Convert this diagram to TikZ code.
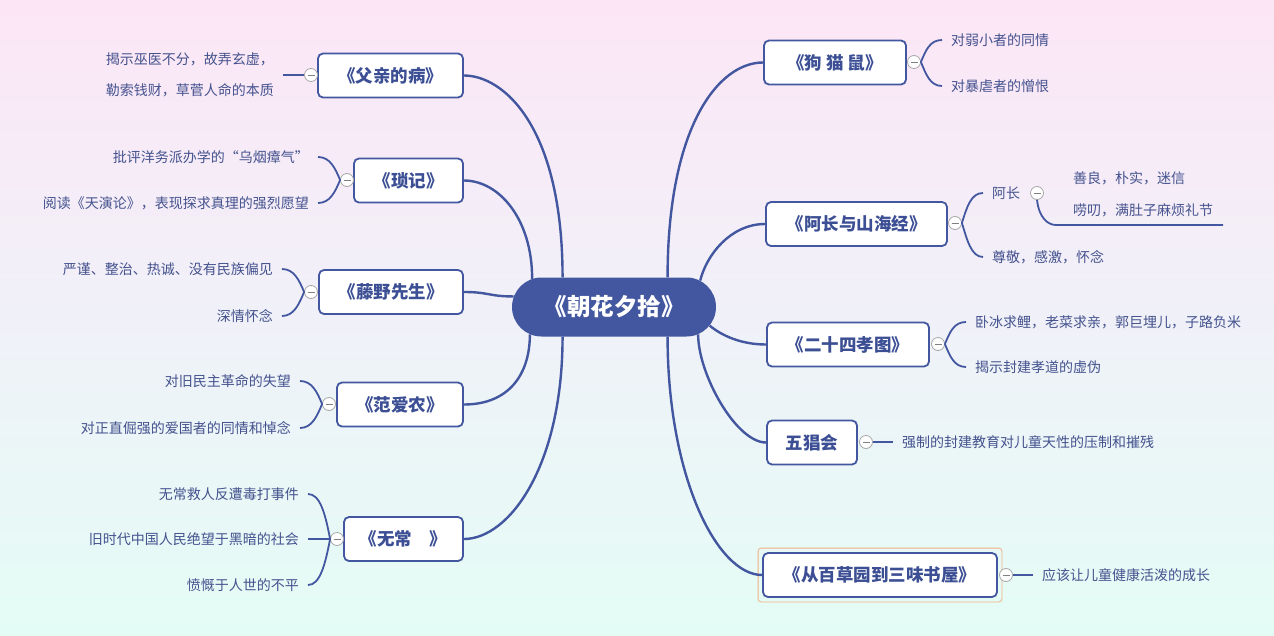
\documentclass[tikz,border=0pt]{standalone}
\usepackage{fontspec}
\setmainfont{Noto Sans CJK SC}
\usetikzlibrary{shapes.misc}

\definecolor{linec}{HTML}{4357A0}
\definecolor{topicc}{HTML}{3C4F94}
\definecolor{leafc}{HTML}{44528E}
\definecolor{framec}{HTML}{F2B282}
\definecolor{topbg}{HTML}{FCE6F6}
\definecolor{midbg}{HTML}{F0F1F8}
\definecolor{botbg}{HTML}{E4FCF6}

\begin{document}
\begin{tikzpicture}[x=1pt, y=-1pt,
    root/.style={rounded rectangle, fill=linec, minimum width=204pt, minimum height=59pt,
        inner sep=0pt, text=white, font=\fontsize{23.5}{26}\selectfont\bfseries},
    topic/.style={draw=linec, line width=1.8pt, fill=white, rounded corners=5pt,
        minimum height=44pt, inner sep=0pt, text=topicc, font=\fontsize{17.5}{20}\selectfont\bfseries},
    link/.style={draw=linec, line width=2.4pt},
    twig/.style={draw=linec, line width=1.8pt},
    leafl/.style={anchor=east, inner xsep=9pt, inner ysep=0pt, text=leafc,
        font=\fontsize{14}{31}\selectfont},
    leafr/.style={leafl, anchor=west},
    tog/.style={circle, draw=gray!70, fill=white, line width=0.8pt, minimum size=13pt, inner sep=0pt,
        path picture={\draw[gray, line width=0.8pt]
            ([xshift=3pt]path picture bounding box.west) -- ([xshift=-3pt]path picture bounding box.east);}}]
    % Background
    \shade[top color=topbg, bottom color=botbg, middle color=midbg] (0,0) rectangle (1274,635);

    % Root
    \node[root] (root) at (614,307) {《朝花夕拾》};

    % Topics
    \node[topic, minimum width=145pt] (fq) at (390.5,75.5) {《父亲的病》};
    \node[topic, minimum width=109pt] (sj) at (408.5,180.5) {《琐记》};
    \node[topic, minimum width=144pt] (ty) at (391,292) {《藤野先生》};
    \node[topic, minimum width=126pt] (fan) at (400,404.5) {《范爱农》};
    \node[topic, minimum width=119pt] (wc) at (403.5,539) {《无常　》};
    \node[topic, minimum width=142pt] (gm) at (835,62.5) {《狗 猫 鼠》};
    \node[topic, minimum width=181pt] (ac) at (856.5,224) {《阿长与山海经》};
    \node[topic, minimum width=162pt] (es) at (848,344.5) {《二十四孝图》};
    \node[topic, minimum width=90pt] (wch) at (812,442.5) {五猖会};
    \node[topic, minimum width=234pt] (bc) at (880,575) {《从百草园到三味书屋》};
    \draw[framec, line width=0.8pt, rounded corners=3pt]
        ([shift={(-4,-4)}]bc.north west) rectangle ([shift={(4,4)}]bc.south east);

    % Links
    \draw[link] (root.150) .. controls +(0,-150) and +(40,0) .. (fq.east);
    \draw[link] (root.161) .. controls +(0,-60) and +(35,0) .. (sj.east);
    \draw[link] (root.174) .. controls +(-25,0) and +(25,0) .. (ty.east);
    \draw[link] (root.198) .. controls +(0,40) and +(45,0) .. (fan.east);
    \draw[link] (root.210) .. controls +(0,130) and +(45,0) .. (wc.east);
    \draw[link] (root.29) .. controls +(0,-150) and +(-45,0) .. (gm.west);
    \draw[link] (root.17) .. controls +(6,-25) and +(-35,0) .. (ac.west);
    \draw[link] (root.-11) .. controls +(12,10) and +(-25,0) .. (es.west);
    \draw[link] (root.-18) .. controls +(0,40) and +(-30,0) .. (wch.west);
    \draw[link] (root.-29) .. controls +(0,140) and +(-45,0) .. (bc.west);

    % Toggles
    \foreach \n/\x/\y in {tfq/311/75, tsj/347/180, tty/311/292, tfan/329/404, twc/337/539,
        tgm/914/62, tac/955/223, tah/1037/193, tes/938/344, twch/866/442, tbc/1006/575}
        \node[tog] (\n) at (\x,\y) {};

    % Leaves, left
    \node[leafl, align=left] (fq1) at (283,75) {揭示巫医不分，故弄玄虚，\\勒索钱财，草菅人命的本质};
    \draw[twig] (tfq.west) -- (fq1.east);

    \node[leafl] (sj1) at (318,157) {批评洋务派办学的“乌烟瘴气”};
    \node[leafl] (sj2) at (318,203) {阅读《天演论》，表现探求真理的强烈愿望};
    \draw[twig] (tsj.west) .. controls +(-5,-12) and +(12,0) .. (sj1.east);
    \draw[twig] (tsj.west) .. controls +(-5,12) and +(12,0) .. (sj2.east);

    \node[leafl] (ty1) at (282,269) {严谨、整治、热诚、没有民族偏见};
    \node[leafl] (ty2) at (282,316) {深情怀念};
    \draw[twig] (tty.west) .. controls +(-5,-12) and +(12,0) .. (ty1.east);
    \draw[twig] (tty.west) .. controls +(-5,12) and +(12,0) .. (ty2.east);

    \node[leafl] (fan1) at (300,381) {对旧民主革命的失望};
    \node[leafl] (fan2) at (300,428) {对正直倔强的爱国者的同情和悼念};
    \draw[twig] (tfan.west) .. controls +(-5,-12) and +(12,0) .. (fan1.east);
    \draw[twig] (tfan.west) .. controls +(-5,12) and +(12,0) .. (fan2.east);

    \node[leafl] (wc1) at (308,494) {无常救人反遭毒打事件};
    \node[leafl] (wc2) at (308,539) {旧时代中国人民绝望于黑暗的社会};
    \node[leafl] (wc3) at (308,585) {愤慨于人世的不平};
    \draw[twig] (twc.west) .. controls +(-5,-26) and +(12,0) .. (wc1.east);
    \draw[twig] (twc.west) -- (wc2.east);
    \draw[twig] (twc.west) .. controls +(-5,26) and +(12,0) .. (wc3.east);

    % Leaves, right
    \node[leafr] (gm1) at (942,40) {对弱小者的同情};
    \node[leafr] (gm2) at (942,86) {对暴虐者的憎恨};
    \draw[twig] (tgm.east) .. controls +(5,-12) and +(-12,0) .. (gm1.west);
    \draw[twig] (tgm.east) .. controls +(5,12) and +(-12,0) .. (gm2.west);

    \node[leafr] (ah) at (983,193) {阿长};
    \node[leafr] (ac2) at (983,257) {尊敬，感激，怀念};
    \draw[twig] (tac.east) .. controls +(5,-16) and +(-12,0) .. (ah.west);
    \draw[twig] (tac.east) .. controls +(5,16) and +(-12,0) .. (ac2.west);

    \node[leafr] (ah1) at (1064,178) {善良，朴实，迷信};
    \node[leafr] (ah2) at (1064,210) {唠叨，满肚子麻烦礼节};
    \coordinate (ahbend) at (1056,225);
    \coordinate (ahend) at (1223,225);
    \draw[twig] (tah.south) .. controls +(2,18) and +(-8,0) .. (ahbend) -- (ahend);

    \node[leafr] (es1) at (966,322) {卧冰求鲤，老菜求亲，郭巨埋儿，子路负米};
    \node[leafr] (es2) at (966,367) {揭示封建孝道的虚伪};
    \draw[twig] (tes.east) .. controls +(5,-12) and +(-12,0) .. (es1.west);
    \draw[twig] (tes.east) .. controls +(5,12) and +(-12,0) .. (es2.west);

    \node[leafr] (wch1) at (893,442) {强制的封建教育对儿童天性的压制和摧残};
    \draw[twig] (twch.east) -- (wch1.west);

    \node[leafr] (bc1) at (1033,575) {应该让儿童健康活泼的成长};
    \draw[twig] (tbc.east) -- (bc1.west);
\end{tikzpicture}
\end{document}
